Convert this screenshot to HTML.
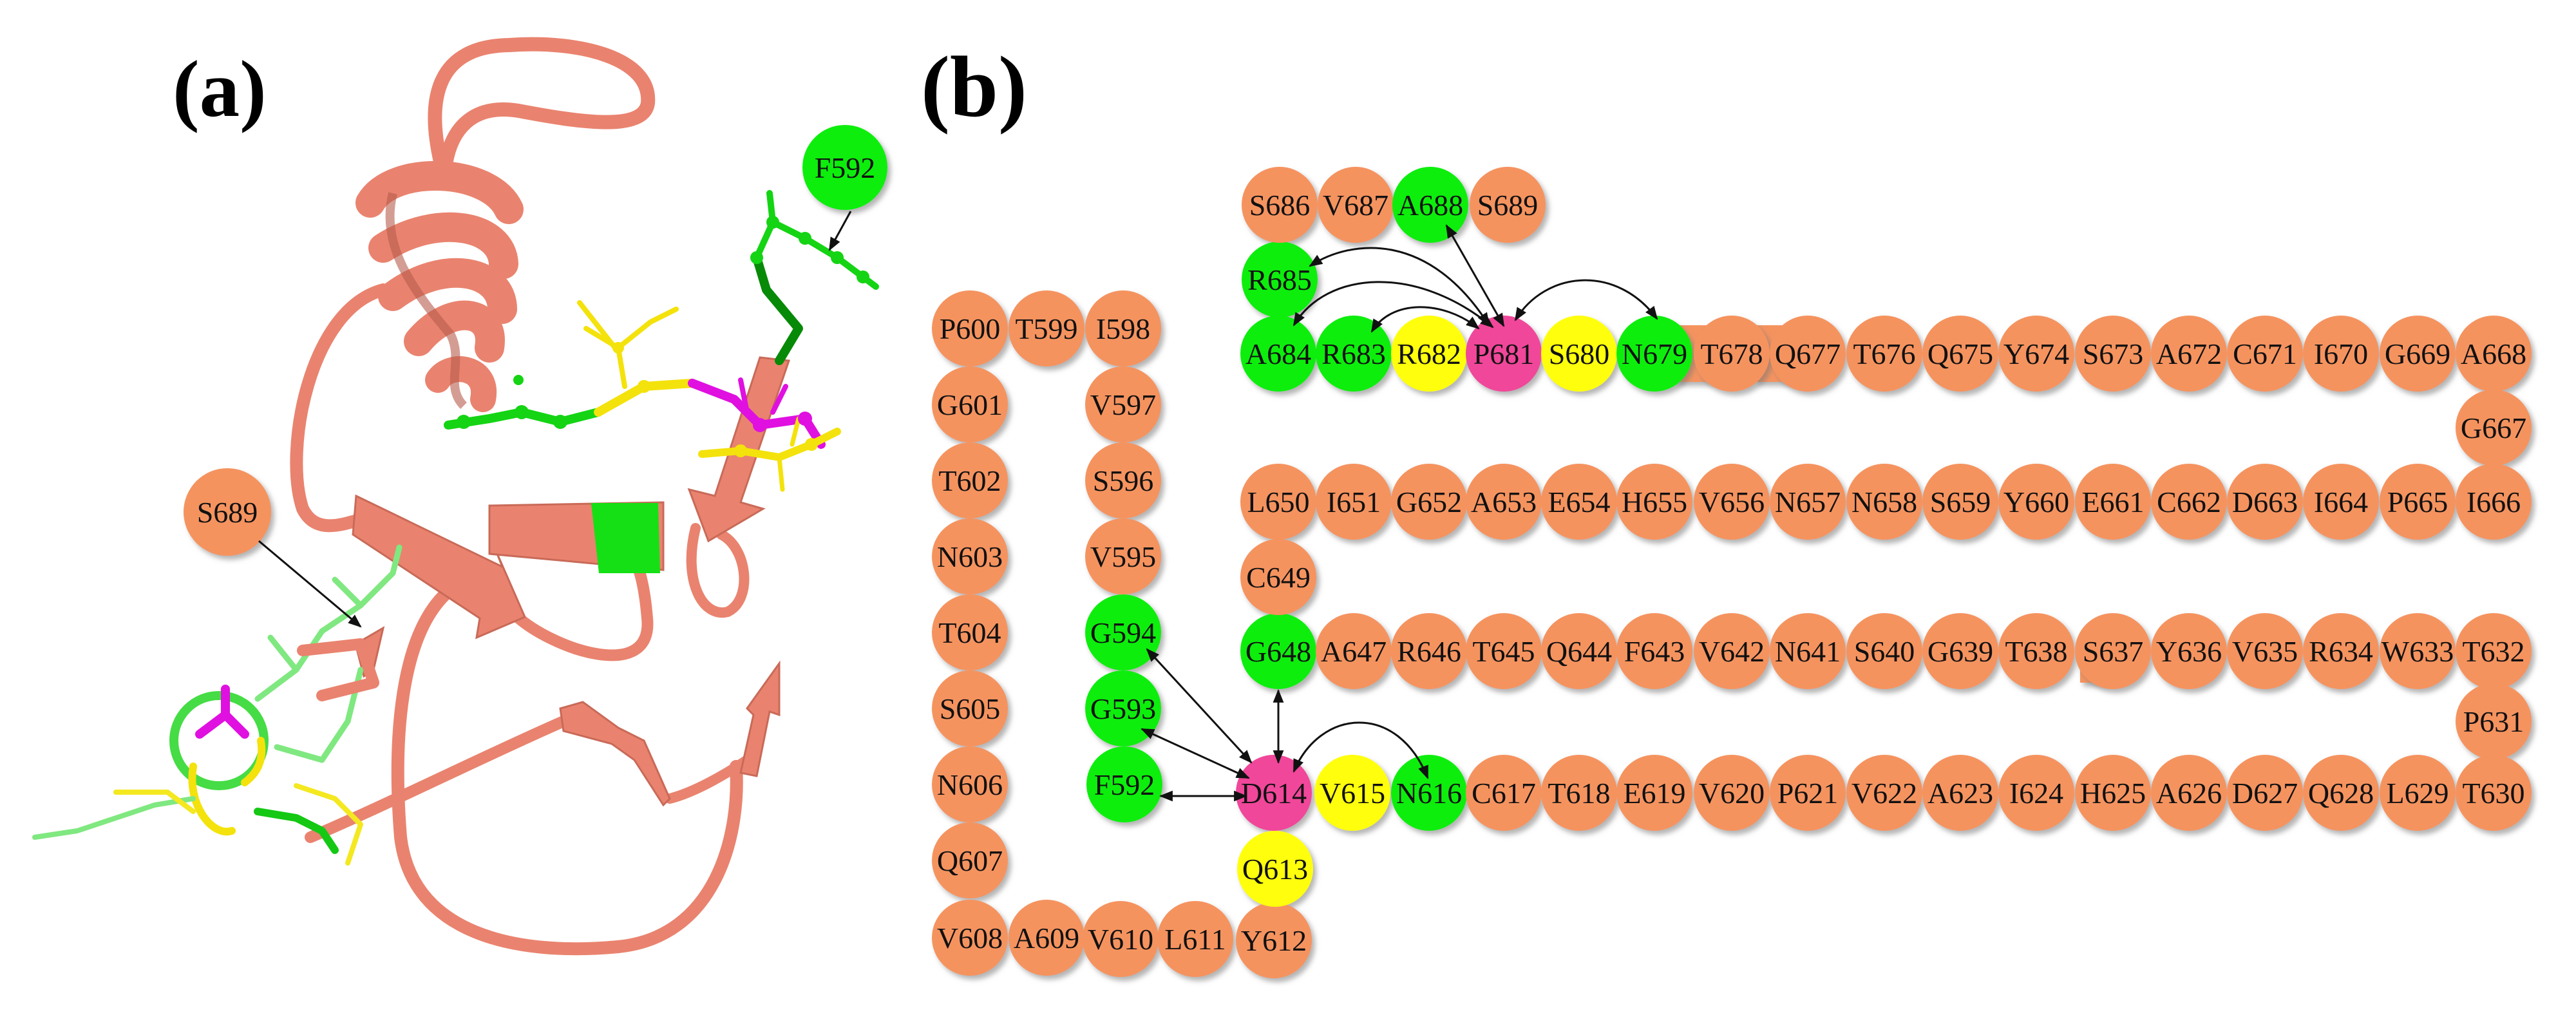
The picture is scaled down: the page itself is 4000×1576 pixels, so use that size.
<!DOCTYPE html>
<html><head><meta charset="utf-8"><style>
html,body{margin:0;padding:0;background:#fff;}
svg{display:block;}
text{font-family:"Liberation Serif",serif;}
.n text{font-size:46px;text-anchor:middle;fill:#111;}
.o{fill:#F5935F}.g{fill:#10EE10}.y{fill:#FFFF0A}.p{fill:#F0479A}
.rb{fill:none;stroke:#E9836F;stroke-linecap:round;stroke-linejoin:round}
.rf{fill:#E9836F;stroke:#C96A58;stroke-width:3}
.sc{fill:none;stroke-linecap:round;stroke-linejoin:round}
</style></head><body>
<svg width="4000" height="1576" viewBox="0 0 4000 1576" xmlns="http://www.w3.org/2000/svg">
<defs>
<filter id="sh" x="-20%" y="-20%" width="150%" height="150%"><feDropShadow dx="5" dy="6" stdDeviation="4" flood-color="#777" flood-opacity="0.55"/></filter>
<marker id="ah" viewBox="0 0 10 10" refX="9" refY="5" markerWidth="7" markerHeight="7" orient="auto-start-reverse"><path d="M0,1 L10,5 L0,9 z" fill="#111"/></marker>
</defs>

<text x="268" y="180" font-size="125" font-weight="bold">(a)</text>
<text x="1430" y="180" font-size="135" font-weight="bold">(b)</text>

<!-- ===== Panel (a) ribbon ===== -->
<g>
<path class="rb" stroke-width="22" d="M685 255 C660 150 680 72 790 70 C900 62 1012 90 1006 160 C1000 205 900 190 805 172 C730 160 700 205 692 255"/>
<path class="rb" stroke-width="20" d="M595 450 C480 480 440 700 470 790 C490 830 530 815 565 805"/>
<path class="rb" stroke-width="20" d="M700 915 C620 980 610 1150 622 1300 C640 1450 800 1485 960 1470 C1110 1455 1150 1300 1143 1190"/>
<path class="rb" stroke-width="18" d="M482 1300 C600 1250 760 1170 875 1120"/>
<path class="rb" stroke-width="18" d="M800 955 C860 1010 1015 1060 1005 960 C1000 900 990 880 990 880"/>
<path class="rb" stroke-width="16" d="M1080 820 C1060 900 1090 960 1130 950 C1170 930 1160 850 1120 830"/>
<path class="rb" stroke-width="16" d="M1040 1240 C1080 1230 1130 1200 1160 1180"/>
<!-- helix -->
<path class="rb" stroke-width="46" d="M575 315 C610 255 760 260 790 325"/>
<path class="rb" stroke-width="46" d="M595 385 C680 330 780 350 782 410"/>
<path class="rb" stroke-width="46" d="M610 460 C690 400 780 420 780 480"/>
<path class="rb" stroke-width="46" d="M650 530 C700 470 770 480 760 540"/>
<path class="rb" stroke-width="40" d="M680 590 C700 560 760 570 750 620"/>
<path d="M610 300 C590 380 640 450 700 520 C720 560 690 600 720 630" fill="none" stroke="#B85C4C" stroke-width="14" opacity="0.6"/>
<!-- strands -->
<polygon class="rf" points="553,770 780,880 770,855 815,958 740,990 745,960 548,830"/>
<polygon class="rf" points="760,785 1030,780 1030,885 760,860"/>
<polygon points="918,781 1022,781 1025,890 930,890" fill="#15E015"/>
<polygon class="rf" points="1180,555 1225,560 1150,780 1185,790 1100,840 1070,760 1110,770"/>
<polygon class="rf" points="870,1100 905,1090 960,1130 1000,1150 1040,1240 1030,1250 985,1180 950,1155 875,1135"/>
<polygon class="rf" points="1150,1200 1170,1110 1160,1100 1210,1030 1210,1110 1195,1105 1175,1205"/>
<polygon class="rf" points="552,1000 595,975 580,1040 565,1050"/>
</g>
<!-- side chains (a) -->
<g>
<path class="sc" stroke="#14D414" stroke-width="14" d="M696 660 L760 650 L810 640 L870 655 L929 640"/>
<path class="sc" stroke="#F4E20C" stroke-width="14" d="M929 640 L1000 600 L1075 595"/>
<path class="sc" stroke="#F4E20C" stroke-width="8" d="M970 600 L960 540 L910 510 M960 540 L1010 500 M955 540 L900 470 M1010 500 L1050 480"/>
<path class="sc" stroke="#E010E0" stroke-width="14" d="M1075 595 L1140 620 L1180 660 L1250 650 L1275 690"/>
<path class="sc" stroke="#E010E0" stroke-width="8" d="M1160 640 L1150 590 M1200 640 L1220 600"/>
<path class="sc" stroke="#F4E20C" stroke-width="12" d="M1090 705 L1150 700 L1210 710 L1260 690 L1300 670"/>
<path class="sc" stroke="#F4E20C" stroke-width="7" d="M1210 710 L1215 760 M1230 690 L1240 650"/>
<path class="sc" stroke="#078A07" stroke-width="14" d="M1210 560 L1240 510 L1190 450 L1175 400"/>
<path class="sc" stroke="#14D414" stroke-width="10" d="M1175 400 L1200 345 L1250 370 L1300 400 L1360 445 M1200 345 L1195 300"/>
<g fill="#14D414"><circle cx="1200" cy="345" r="10"/><circle cx="1250" cy="370" r="10"/><circle cx="1300" cy="400" r="10"/><circle cx="1340" cy="430" r="10"/><circle cx="1175" cy="400" r="10"/><circle cx="720" cy="655" r="11"/><circle cx="810" cy="640" r="11"/><circle cx="870" cy="655" r="11"/><circle cx="805" cy="590" r="8"/></g>
<g fill="#E010E0"><circle cx="1180" cy="660" r="11"/><circle cx="1250" cy="650" r="11"/></g>
<g fill="#F4E20C"><circle cx="1000" cy="600" r="10"/><circle cx="960" cy="540" r="9"/><circle cx="1150" cy="700" r="10"/><circle cx="1260" cy="690" r="10"/></g>
<!-- lower left -->
<circle cx="340" cy="1150" r="70" fill="none" stroke="#45DC45" stroke-width="14"/>
<path class="sc" stroke="#F4E20C" stroke-width="12" d="M300 1190 C290 1250 330 1300 360 1290 M380 1215 C400 1200 410 1180 405 1150"/>
<path class="sc" stroke="#80E880" stroke-width="9" d="M400 1085 L460 1040 L500 980 L560 940 L610 890 L620 850 M460 1040 L420 990 M560 940 L520 900 M430 1160 L500 1180 L540 1120 L560 1040"/>
<path class="sc" stroke="#E010E0" stroke-width="14" d="M310 1140 L350 1110 L380 1140 M350 1110 L350 1070"/>
<path class="sc" stroke="#80E880" stroke-width="8" d="M54 1300 L120 1290 L180 1270 L240 1250 L300 1240"/>
<path class="sc" stroke="#F4E820" stroke-width="8" d="M180 1230 L260 1230 L300 1260 M460 1220 L520 1240 L560 1280 L540 1340"/>
<path class="sc" stroke="#14C814" stroke-width="12" d="M400 1260 L460 1270 L500 1290 L520 1320"/>
<path class="sc" stroke="#E9836F" stroke-width="18" d="M470 1010 L560 1000 L580 1060 L500 1080"/>
</g>
<g class="n" filter="url(#sh)">
<circle class="g" cx="1312" cy="260" r="66"/>
<circle class="o" cx="353" cy="795" r="68"/>
</g>
<g class="n"><text x="1312" y="276">F592</text><text x="353" y="811">S689</text></g>
<line x1="1321" y1="328" x2="1288" y2="388" stroke="#111" stroke-width="3" marker-end="url(#ah)"/>
<line x1="402" y1="840" x2="560" y2="973" stroke="#111" stroke-width="3" marker-end="url(#ah)"/>

<!-- ===== Panel (b) ===== -->
<g fill="#F5935F" filter="url(#sh)">
<rect x="2600" y="505" width="60" height="88"/><rect x="2725" y="505" width="60" height="88"/>
<rect x="3230" y="1000" width="40" height="60"/>
</g>
<g class="n" filter="url(#sh)">
<circle class="o" cx="1506" cy="510" r="59"/><circle class="o" cx="1625" cy="510" r="59"/><circle class="o" cx="1744" cy="510" r="59"/>
<circle class="o" cx="1506" cy="628" r="59"/><circle class="o" cx="1744" cy="628" r="59"/>
<circle class="o" cx="1506" cy="746" r="59"/><circle class="o" cx="1744" cy="746" r="59"/>
<circle class="o" cx="1506" cy="864" r="59"/><circle class="o" cx="1744" cy="864" r="59"/>
<circle class="o" cx="1506" cy="982" r="59"/><circle class="g" cx="1744" cy="982" r="59"/>
<circle class="o" cx="1506" cy="1100" r="59"/><circle class="g" cx="1744" cy="1100" r="59"/>
<circle class="o" cx="1506" cy="1218" r="59"/><circle class="g" cx="1746" cy="1218" r="59"/>
<circle class="o" cx="1506" cy="1336" r="59"/>
<circle class="o" cx="1506" cy="1456" r="59"/><circle class="o" cx="1625" cy="1456" r="59"/><circle class="o" cx="1740" cy="1458" r="59"/><circle class="o" cx="1856" cy="1458" r="59"/><circle class="o" cx="1978" cy="1460" r="59"/>
<circle class="y" cx="1980" cy="1349" r="59"/>
<circle class="p" cx="1978" cy="1231" r="59"/><circle class="y" cx="2100" cy="1231" r="59"/><circle class="g" cx="2219" cy="1231" r="59"/>
<circle class="o" cx="2335" cy="1231" r="59"/><circle class="o" cx="2452" cy="1231" r="59"/><circle class="o" cx="2569" cy="1231" r="59"/>
<circle class="o" cx="2689" cy="1231" r="59"/><circle class="o" cx="2807" cy="1231" r="59"/><circle class="o" cx="2926" cy="1231" r="59"/>
<circle class="o" cx="3044" cy="1231" r="59"/><circle class="o" cx="3162" cy="1231" r="59"/><circle class="o" cx="3281" cy="1231" r="59"/>
<circle class="o" cx="3399" cy="1231" r="59"/><circle class="o" cx="3517" cy="1231" r="59"/><circle class="o" cx="3635" cy="1231" r="59"/>
<circle class="o" cx="3754" cy="1231" r="59"/><circle class="o" cx="3872" cy="1231" r="59"/>
<circle class="o" cx="3872" cy="1120" r="59"/>
<circle class="g" cx="1985" cy="1011" r="59"/><circle class="o" cx="2102" cy="1011" r="59"/><circle class="o" cx="2219" cy="1011" r="59"/>
<circle class="o" cx="2335" cy="1011" r="59"/><circle class="o" cx="2452" cy="1011" r="59"/><circle class="o" cx="2569" cy="1011" r="59"/>
<circle class="o" cx="2689" cy="1011" r="59"/><circle class="o" cx="2807" cy="1011" r="59"/><circle class="o" cx="2926" cy="1011" r="59"/>
<circle class="o" cx="3044" cy="1011" r="59"/><circle class="o" cx="3162" cy="1011" r="59"/><circle class="o" cx="3281" cy="1011" r="59"/>
<circle class="o" cx="3399" cy="1011" r="59"/><circle class="o" cx="3517" cy="1011" r="59"/><circle class="o" cx="3635" cy="1011" r="59"/>
<circle class="o" cx="3754" cy="1011" r="59"/><circle class="o" cx="3872" cy="1011" r="59"/>
<circle class="o" cx="1985" cy="896" r="59"/>
<circle class="o" cx="1985" cy="779" r="59"/><circle class="o" cx="2102" cy="779" r="59"/><circle class="o" cx="2219" cy="779" r="59"/>
<circle class="o" cx="2335" cy="779" r="59"/><circle class="o" cx="2452" cy="779" r="59"/><circle class="o" cx="2569" cy="779" r="59"/>
<circle class="o" cx="2689" cy="779" r="59"/><circle class="o" cx="2807" cy="779" r="59"/><circle class="o" cx="2926" cy="779" r="59"/>
<circle class="o" cx="3044" cy="779" r="59"/><circle class="o" cx="3162" cy="779" r="59"/><circle class="o" cx="3281" cy="779" r="59"/>
<circle class="o" cx="3399" cy="779" r="59"/><circle class="o" cx="3517" cy="779" r="59"/><circle class="o" cx="3635" cy="779" r="59"/>
<circle class="o" cx="3754" cy="779" r="59"/><circle class="o" cx="3872" cy="779" r="59"/>
<circle class="o" cx="3872" cy="664" r="59"/>
<circle class="g" cx="1985" cy="549" r="59"/><circle class="g" cx="2102" cy="549" r="59"/><circle class="y" cx="2219" cy="549" r="59"/>
<circle class="p" cx="2335" cy="549" r="59"/><circle class="y" cx="2452" cy="549" r="59"/><circle class="g" cx="2569" cy="549" r="59"/>
<circle class="o" cx="2689" cy="549" r="59"/><circle class="o" cx="2807" cy="549" r="59"/><circle class="o" cx="2926" cy="549" r="59"/>
<circle class="o" cx="3044" cy="549" r="59"/><circle class="o" cx="3162" cy="549" r="59"/><circle class="o" cx="3281" cy="549" r="59"/>
<circle class="o" cx="3399" cy="549" r="59"/><circle class="o" cx="3517" cy="549" r="59"/><circle class="o" cx="3635" cy="549" r="59"/>
<circle class="o" cx="3754" cy="549" r="59"/><circle class="o" cx="3872" cy="549" r="59"/>
<circle class="g" cx="1987" cy="434" r="59"/>
<circle class="o" cx="1987" cy="318" r="59"/><circle class="o" cx="2105" cy="318" r="59"/><circle class="g" cx="2221" cy="318" r="59"/><circle class="o" cx="2341" cy="318" r="59"/>
</g>
<g class="n">
<text x="1506" y="526">P600</text><text x="1625" y="526">T599</text><text x="1744" y="526">I598</text>
<text x="1506" y="644">G601</text><text x="1744" y="644">V597</text>
<text x="1506" y="762">T602</text><text x="1744" y="762">S596</text>
<text x="1506" y="880">N603</text><text x="1744" y="880">V595</text>
<text x="1506" y="998">T604</text><text x="1744" y="998">G594</text>
<text x="1506" y="1116">S605</text><text x="1744" y="1116">G593</text>
<text x="1506" y="1234">N606</text><text x="1746" y="1234">F592</text>
<text x="1506" y="1352">Q607</text>
<text x="1506" y="1472">V608</text><text x="1625" y="1472">A609</text><text x="1740" y="1474">V610</text><text x="1856" y="1474">L611</text><text x="1978" y="1476">Y612</text>
<text x="1980" y="1365">Q613</text>
<text x="1978" y="1247">D614</text><text x="2100" y="1247">V615</text><text x="2219" y="1247">N616</text>
<text x="2335" y="1247">C617</text><text x="2452" y="1247">T618</text><text x="2569" y="1247">E619</text>
<text x="2689" y="1247">V620</text><text x="2807" y="1247">P621</text><text x="2926" y="1247">V622</text>
<text x="3044" y="1247">A623</text><text x="3162" y="1247">I624</text><text x="3281" y="1247">H625</text>
<text x="3399" y="1247">A626</text><text x="3517" y="1247">D627</text><text x="3635" y="1247">Q628</text>
<text x="3754" y="1247">L629</text><text x="3872" y="1247">T630</text>
<text x="3872" y="1136">P631</text>
<text x="1985" y="1027">G648</text><text x="2102" y="1027">A647</text><text x="2219" y="1027">R646</text>
<text x="2335" y="1027">T645</text><text x="2452" y="1027">Q644</text><text x="2569" y="1027">F643</text>
<text x="2689" y="1027">V642</text><text x="2807" y="1027">N641</text><text x="2926" y="1027">S640</text>
<text x="3044" y="1027">G639</text><text x="3162" y="1027">T638</text><text x="3281" y="1027">S637</text>
<text x="3399" y="1027">Y636</text><text x="3517" y="1027">V635</text><text x="3635" y="1027">R634</text>
<text x="3754" y="1027">W633</text><text x="3872" y="1027">T632</text>
<text x="1985" y="912">C649</text>
<text x="1985" y="795">L650</text><text x="2102" y="795">I651</text><text x="2219" y="795">G652</text>
<text x="2335" y="795">A653</text><text x="2452" y="795">E654</text><text x="2569" y="795">H655</text>
<text x="2689" y="795">V656</text><text x="2807" y="795">N657</text><text x="2926" y="795">N658</text>
<text x="3044" y="795">S659</text><text x="3162" y="795">Y660</text><text x="3281" y="795">E661</text>
<text x="3399" y="795">C662</text><text x="3517" y="795">D663</text><text x="3635" y="795">I664</text>
<text x="3754" y="795">P665</text><text x="3872" y="795">I666</text>
<text x="3872" y="680">G667</text>
<text x="1985" y="565">A684</text><text x="2102" y="565">R683</text><text x="2219" y="565">R682</text>
<text x="2335" y="565">P681</text><text x="2452" y="565">S680</text><text x="2569" y="565">N679</text>
<text x="2689" y="565">T678</text><text x="2807" y="565">Q677</text><text x="2926" y="565">T676</text>
<text x="3044" y="565">Q675</text><text x="3162" y="565">Y674</text><text x="3281" y="565">S673</text>
<text x="3399" y="565">A672</text><text x="3517" y="565">C671</text><text x="3635" y="565">I670</text>
<text x="3754" y="565">G669</text><text x="3872" y="565">A668</text>
<text x="1987" y="450">R685</text>
<text x="1987" y="334">S686</text><text x="2105" y="334">V687</text><text x="2221" y="334">A688</text><text x="2341" y="334">S689</text>
</g>
<g fill="none" stroke="#111" stroke-width="3" marker-start="url(#ah)" marker-end="url(#ah)">
<line x1="2246" y1="350" x2="2335" y2="506"/>
<path d="M2034 413 C2100 370 2220 360 2312 505"/>
<path d="M2009 505 C2060 420 2200 410 2318 508"/>
<path d="M2130 515 C2160 465 2240 465 2296 510"/>
<path d="M2353 497 C2400 420 2510 410 2573 495"/>
<line x1="1781" y1="1008" x2="1943" y2="1184"/>
<line x1="1773" y1="1132" x2="1939" y2="1208"/>
<line x1="1802" y1="1236" x2="1935" y2="1236"/>
<line x1="1985" y1="1072" x2="1985" y2="1184"/>
<path d="M2009 1198 C2050 1100 2170 1090 2217 1208"/>
</g>
</svg>
</body></html>
